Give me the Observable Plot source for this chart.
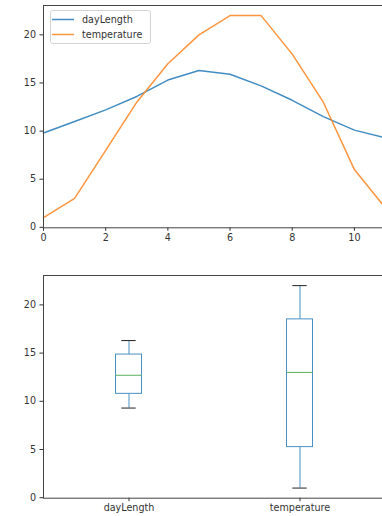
<!DOCTYPE html>
<html><head><meta charset="utf-8">
<script src="https://cdn.jsdelivr.net/npm/d3@7"></script>
<script src="https://cdn.jsdelivr.net/npm/@observablehq/plot@0.6"></script>
<style>
html,body{margin:0;padding:0;overflow:hidden;background:#fff;width:382px;height:516px}
#wrap{position:relative;width:386px;height:516px}
#wrap svg{display:block}
.legend{position:absolute;left:49.5px;top:10px;width:101px;height:34px;box-sizing:border-box;padding-top:0.6px;border:1px solid #d4d4d4;border-radius:3px;background:rgba(255,255,255,0.8);font-family:"DejaVu Sans";font-size:9.6px;color:#333}
.legend .row{display:flex;align-items:center;height:15.4px}
.legend .row svg{margin-left:1.8px;flex:none}
.legend .row span{margin-left:7.7px;white-space:nowrap}
</style>
</head><body><div id="wrap"></div>
<script>
// ---- data ----
const months = [0, 1, 2, 3, 4, 5, 6, 7, 8, 9, 10, 11];
const dayLength = [9.8, 11.0, 12.2, 13.6, 15.3, 16.3, 15.9, 14.7, 13.2, 11.5, 10.1, 9.3];
const temperature = [1, 3, 8, 13, 17, 20, 22, 22, 18, 13, 6, 2];
const seriesNames = ["dayLength", "temperature"];
const seriesColors = ["#2f7fba", "#fb8a2a"];
const xTicks = [0, 2, 4, 6, 8, 10];
const yTicks = [0, 5, 10, 15, 20];

const seriesValues = [dayLength, temperature];
const wrap = document.getElementById("wrap");
const baseStyle = {fontFamily: "DejaVu Sans", fontSize: "9.6px", color: "#333", background: "white", overflow: "visible", maxWidth: "none"};

// ---- top: line chart ----
const lineData = seriesNames.flatMap((name, i) =>
  months.map((m, j) => ({series: name, x: m, y: seriesValues[i][j]})));

const topChart = Plot.plot({
  width: 386, height: 250,
  marginLeft: 43, marginRight: 1, marginTop: 5, marginBottom: 22.7,
  style: baseStyle,
  x: {domain: [0, 11], ticks: xTicks, tickSize: 3.5, tickPadding: 2.5, label: null},
  y: {domain: [-0.05, 23.05], ticks: yTicks, tickSize: 3.5, tickPadding: 4, label: null},
  color: {domain: seriesNames, range: seriesColors},
  marks: [
    Plot.line(lineData, {x: "x", y: "y", z: "series", stroke: "series", strokeWidth: 1.5, strokeOpacity: 0.9}),
    Plot.frame({stroke: "#444", strokeWidth: 1})
  ]
});
wrap.appendChild(topChart);

// legend (HTML overlay)
const legend = document.createElement("div");
legend.className = "legend";
seriesNames.forEach((name, i) => {
  const row = document.createElement("div");
  row.className = "row";
  row.innerHTML = `<svg width="22" height="3"><line x1="0" x2="22" y1="1.5" y2="1.5" stroke="${seriesColors[i]}" stroke-width="1.5" stroke-opacity="0.9"/></svg><span>${name}</span>`;
  legend.appendChild(row);
});
wrap.appendChild(legend);

// ---- bottom: box plot ----
const boxStats = seriesNames.map((name, i) => {
  const v = seriesValues[i].slice().sort(d3.ascending);
  const q1 = d3.quantile(v, 0.25), q2 = d3.quantile(v, 0.5), q3 = d3.quantile(v, 0.75);
  const iqr = q3 - q1;
  const lo = d3.min(v.filter(d => d >= q1 - 1.5 * iqr));
  const hi = d3.max(v.filter(d => d <= q3 + 1.5 * iqr));
  return {name, pos: i + 1, q1, q2, q3, lo, hi};
});
const boxHalf = 0.076, capHalf = 0.042;
const boxColor = "#4a90c4";

const bottomChart = Plot.plot({
  width: 386, height: 266,
  marginLeft: 43, marginRight: 1, marginTop: 25, marginBottom: 18.3,
  style: baseStyle,
  x: {domain: [0.5, 2.5], ticks: [1, 2], tickFormat: d => seriesNames[d - 1], tickSize: 3.5, tickPadding: 2.5, label: null},
  y: {domain: [-0.05, 23.05], ticks: yTicks, tickSize: 3.5, tickPadding: 4, label: null},
  marks: [
    Plot.ruleX(boxStats, {x: "pos", y1: "lo", y2: "q1", stroke: boxColor, strokeWidth: 1}),
    Plot.ruleX(boxStats, {x: "pos", y1: "q3", y2: "hi", stroke: boxColor, strokeWidth: 1}),
    Plot.rect(boxStats, {x1: d => d.pos - boxHalf, x2: d => d.pos + boxHalf, y1: "q1", y2: "q3", fill: "white", stroke: boxColor, strokeWidth: 1}),
    Plot.ruleY(boxStats, {y: "q2", x1: d => d.pos - boxHalf, x2: d => d.pos + boxHalf, stroke: "#5aae5a", strokeWidth: 1}),
    Plot.ruleY(boxStats, {y: "lo", x1: d => d.pos - capHalf, x2: d => d.pos + capHalf, stroke: "#222", strokeWidth: 1}),
    Plot.ruleY(boxStats, {y: "hi", x1: d => d.pos - capHalf, x2: d => d.pos + capHalf, stroke: "#222", strokeWidth: 1}),
    Plot.frame({stroke: "#444", strokeWidth: 1})
  ]
});
wrap.appendChild(bottomChart);
</script>
</body></html>
